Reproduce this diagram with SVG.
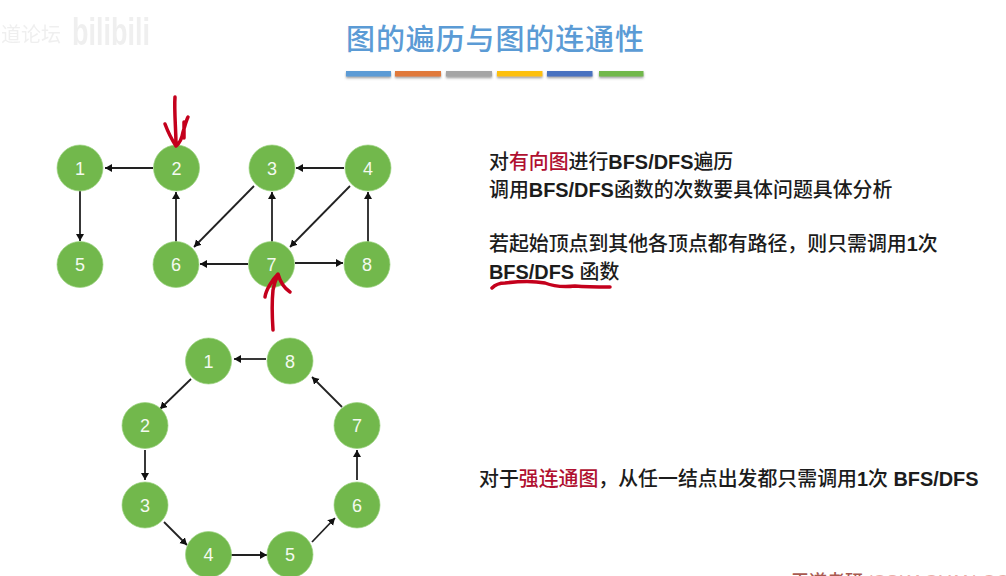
<svg xmlns="http://www.w3.org/2000/svg" width="1006" height="576" viewBox="0 0 1006 576">
<style>
text{font-family:"Liberation Sans","Noto Sans CJK SC",sans-serif}
.n circle{fill:#72b84c;stroke:#9bd37f;stroke-width:.7}
.n text{fill:#f4faf0;font-size:18px;text-anchor:middle}
.e line{stroke:#222;stroke-width:1.8;marker-end:url(#a)}
.t{font-size:19.9px;font-weight:500;fill:#1c1c1c}
.l{font-weight:700}
.r{fill:#b01030}
.ink{fill:none;stroke:#c4001c;stroke-width:3.5;stroke-linecap:round;stroke-linejoin:round}
.b{filter:url(#s)}
</style>
<defs>
<marker id="a" markerUnits="userSpaceOnUse" markerWidth="9" markerHeight="9" refX="7" refY="4" orient="auto"><path d="M0 0L7 4L0 8Z" fill="#111"/></marker>
<filter id="s" x="-5%" y="-50%" width="110%" height="250%"><feDropShadow dx="0" dy="1.5" stdDeviation="1" flood-color="#555" flood-opacity=".6"/></filter>
<filter id="w"><feGaussianBlur stdDeviation=".7"/></filter>
</defs>
<rect width="1006" height="576" fill="#fff"/>
<g id="watermark" opacity=".13" fill="#888" filter="url(#w)">
<text x="1" y="42" font-size="20" textLength="60" lengthAdjust="spacingAndGlyphs">道论坛</text>
<text x="72" y="45" font-size="39" font-weight="700" textLength="78" lengthAdjust="spacingAndGlyphs">bilibili</text>
</g>
<text id="title" x="346" y="50" font-size="29" font-weight="500" fill="#5b9bd5" textLength="298" style="font-family:'Noto Sans CJK SC',sans-serif">图的遍历与图的连通性</text>
<g id="title-bars">
<rect class="b" x="346" y="71" width="45" height="5.500" fill="#5b9bd5"/>
<rect class="b" x="395" y="71" width="46" height="5.500" fill="#e0793a"/>
<rect class="b" x="446" y="71" width="46" height="5.500" fill="#a5a5a5"/>
<rect class="b" x="497" y="71" width="45.500" height="5.500" fill="#fdc010"/>
<rect class="b" x="547" y="71" width="45.500" height="5.500" fill="#4a72c0"/>
<rect class="b" x="599" y="71" width="44.500" height="5.500" fill="#72b84c"/>
</g>
<g id="connectors" class="e">
<line x1="153" y1="168" x2="105" y2="168"/>
<line x1="80" y1="191" x2="80" y2="241"/>
<line x1="176" y1="242" x2="176" y2="192"/>
<line x1="254" y1="186" x2="194" y2="247"/>
<line x1="344" y1="168" x2="296" y2="168"/>
<line x1="272" y1="242" x2="272" y2="192"/>
<line x1="350" y1="186" x2="290" y2="247"/>
<line x1="248" y1="264" x2="200" y2="264"/>
<line x1="295" y1="263" x2="343" y2="263"/>
<line x1="368" y1="242" x2="368" y2="192"/>
<line x1="266" y1="359" x2="234" y2="359"/>
<line x1="191" y1="379" x2="160" y2="409"/>
<line x1="145" y1="450" x2="145" y2="480"/>
<line x1="164" y1="522" x2="187" y2="545"/>
<line x1="231" y1="555" x2="267" y2="555"/>
<line x1="312" y1="542" x2="335" y2="518"/>
<line x1="357" y1="480" x2="357" y2="450"/>
<line x1="342" y1="407" x2="312" y2="377"/>
</g>
<g id="a1" class="n"><circle cx="80" cy="168" r="23"/><text x="80" y="174.500">1</text></g>
<g id="a2" class="n"><circle cx="176.500" cy="168" r="23"/><text x="176.500" y="174.500">2</text></g>
<g id="a3" class="n"><circle cx="272" cy="168" r="23"/><text x="272" y="174.500">3</text></g>
<g id="a4" class="n"><circle cx="368" cy="168" r="23"/><text x="368" y="174.500">4</text></g>
<g id="a5" class="n"><circle cx="80" cy="264.500" r="23"/><text x="80" y="271">5</text></g>
<g id="a6" class="n"><circle cx="176" cy="264.500" r="23"/><text x="176" y="271">6</text></g>
<g id="a7" class="n"><circle cx="271.500" cy="264.500" r="23"/><text x="271.500" y="271">7</text></g>
<g id="a8" class="n"><circle cx="367" cy="264.500" r="23"/><text x="367" y="271">8</text></g>
<g id="b1" class="n"><circle cx="208.500" cy="361" r="23"/><text x="208.500" y="367.500">1</text></g>
<g id="b2" class="n"><circle cx="145" cy="425.500" r="23"/><text x="145" y="432">2</text></g>
<g id="b3" class="n"><circle cx="145" cy="505" r="23"/><text x="145" y="511.500">3</text></g>
<g id="b4" class="n"><circle cx="208.500" cy="554.500" r="23"/><text x="208.500" y="561">4</text></g>
<g id="b5" class="n"><circle cx="290" cy="554.500" r="23"/><text x="290" y="561">5</text></g>
<g id="b6" class="n"><circle cx="357" cy="505" r="23"/><text x="357" y="511.500">6</text></g>
<g id="b7" class="n"><circle cx="357" cy="425.500" r="23"/><text x="357" y="432">7</text></g>
<g id="b8" class="n"><circle cx="290" cy="361" r="23"/><text x="290" y="367.500">8</text></g>
<g id="ink">
<path class="ink" d="M175 97C174 110 176 130 176 145M165 124C168 132 172 140 176 146C180 143 182 138 183 132C185 126 186 121 188 117M184 122L184 138"/>
<path class="ink" d="M273 330C272 315 272 300 273 290C274 284 276 279 278 275M265 297C266 290 272 280 278 274C280 281 284 288 290 292"/>
<path class="ink" d="M492 288C495 285 499 283 505 283C520 281 535 281 545 283C555 287 565 287 575 286C587 287 600 287 610 287"/>
</g>
<g id="notes">
<text class="t" x="489" y="169">对<tspan class="r">有向图</tspan>进行<tspan class="l">BFS/DFS</tspan>遍历</text>
<text class="t" x="489" y="197">调用<tspan class="l">BFS/DFS</tspan>函数的次数要具体问题具体分析</text>
<text class="t" x="489" y="251">若起始顶点到其他各顶点都有路径，则只需调用<tspan class="l">1</tspan>次</text>
<text class="t" x="489" y="279"><tspan class="l">BFS/DFS</tspan> 函数</text>
<text class="t" x="479" y="486">对于<tspan class="r">强连通图</tspan>，从任一结点出发都只需调用<tspan class="l">1</tspan>次 <tspan class="l">BFS/DFS</tspan></text>
</g>
<text id="footer" x="791" y="588" font-size="18" font-weight="500" fill="#a85a50">王道考研<tspan fill="#eab0a8" dx="4" font-size="19">/CSKAOYAN.COM</tspan></text>
</svg>
